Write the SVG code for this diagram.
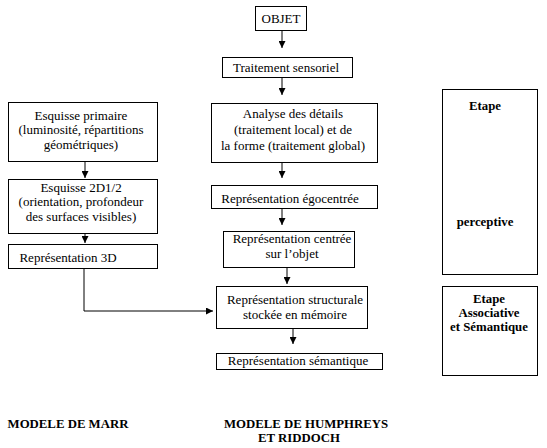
<svg xmlns="http://www.w3.org/2000/svg" width="547" height="448" viewBox="0 0 547 448">
<style>
.box{fill:#fff;stroke:#000;stroke-width:1}
.t{font-family:'Liberation Serif','Times New Roman',Times,'DejaVu Serif',serif;font-size:13px;fill:#000;text-anchor:middle}
.b{font-weight:bold;font-size:12.8px}
.c{fill:none;stroke:#000;stroke-width:1}
</style>
<defs>
<marker id="ah" markerUnits="userSpaceOnUse" markerWidth="7" markerHeight="7" refX="7" refY="3.5" orient="auto">
<path d="M0,0 L7,3.5 L0,7 z" fill="#000"/>
</marker>
</defs>
<rect width="547" height="448" fill="#fff"/>
<g id="connectors">
<line class="c" x1="282" y1="31" x2="282" y2="48" marker-end="url(#ah)"/>
<line class="c" x1="282" y1="77" x2="282" y2="95" marker-end="url(#ah)"/>
<line class="c" x1="282" y1="162" x2="282" y2="178" marker-end="url(#ah)"/>
<line class="c" x1="282" y1="208" x2="282" y2="225" marker-end="url(#ah)"/>
<line class="c" x1="287" y1="267" x2="287" y2="284" marker-end="url(#ah)"/>
<line class="c" x1="293" y1="328" x2="293" y2="344" marker-end="url(#ah)"/>
<line class="c" x1="85" y1="161" x2="85" y2="178" marker-end="url(#ah)"/>
<line class="c" x1="85" y1="233" x2="85" y2="243" marker-end="url(#ah)"/>
<polyline class="c" points="84,268 84,311 213,311" marker-end="url(#ah)"/>
</g>
<g id="objet"><rect class="box" x="255.5" y="6.5" width="51" height="24"/><text class="t" x="281" y="23">OBJET</text></g>
<g id="traitement"><rect class="box" x="222.5" y="57.5" width="130" height="20"/><text class="t" x="286" y="72">Traitement sensoriel</text></g>
<g id="analyse"><rect class="box" x="211.5" y="103.5" width="166" height="59"/>
<text class="t" x="293" y="118">Analyse des détails</text>
<text class="t" x="293" y="134">(traitement local) et de</text>
<text class="t" x="293" y="150">la forme (traitement global)</text></g>
<g id="egocentree"><rect class="box" x="211.5" y="185.5" width="166" height="23"/><text class="t" x="290" y="203">Représentation égocentrée</text></g>
<g id="centree"><rect class="box" x="223.5" y="231.5" width="131" height="36"/>
<text class="t" x="292" y="243">Représentation centrée</text>
<text class="t" x="292" y="258">sur l’objet</text></g>
<g id="structurale"><rect class="box" x="216.5" y="286.5" width="151" height="42"/>
<text class="t" x="295" y="304">Représentation structurale</text>
<text class="t" x="295" y="319">stockée en mémoire</text></g>
<g id="semantique"><rect class="box" x="216.5" y="353.5" width="166" height="16"/><text class="t" x="298" y="365">Représentation sémantique</text></g>
<g id="esquisse-primaire"><rect class="box" x="8.5" y="102.5" width="149" height="59"/>
<text class="t" x="81" y="120">Esquisse primaire</text>
<text class="t" x="81" y="134">(luminosité, répartitions</text>
<text class="t" x="81" y="149">géométriques)</text></g>
<g id="esquisse-2d"><rect class="box" x="8.5" y="179.5" width="149" height="54"/>
<text class="t" x="81" y="192">Esquisse 2D1/2</text>
<text class="t" x="81" y="206">(orientation, profondeur</text>
<text class="t" x="81" y="221">des surfaces visibles)</text></g>
<g id="rep3d"><rect class="box" x="8.5" y="244.5" width="149" height="24"/><text class="t" x="68" y="262">Représentation 3D</text></g>
<g id="etape-perceptive"><rect class="box" x="442.5" y="89.5" width="95" height="185"/>
<text class="t b" x="485" y="110">Etape</text>
<text class="t b" x="485" y="226">perceptive</text></g>
<g id="etape-associative"><rect class="box" x="442.5" y="286.5" width="95" height="89"/>
<text class="t b" x="489" y="303">Etape</text>
<text class="t b" x="489" y="317">Associative</text>
<text class="t b" x="489" y="331">et Sémantique</text></g>
<g id="labels">
<text class="t b" x="68" y="428">MODELE DE MARR</text>
<text class="t b" x="306" y="428">MODELE DE HUMPHREYS</text>
<text class="t b" x="299" y="442">ET RIDDOCH</text>
</g>
</svg>
